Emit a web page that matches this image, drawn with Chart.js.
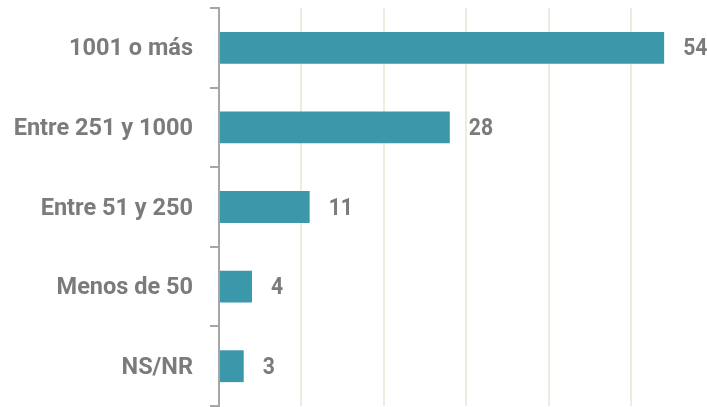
<!DOCTYPE html>
<html>
<head>
<meta charset="utf-8">
<script src="https://cdn.jsdelivr.net/npm/chart.js@4"></script>
<style>
  html, body { margin: 0; padding: 0; background: #fff; }
  #wrap { width: 707px; height: 407px; }
</style>
</head>
<body>
<div id="wrap"><canvas id="chart"></canvas></div>
<script>
// Datos
const categorias = ['1001 o más', 'Entre 251 y 1000', 'Entre 51 y 250', 'Menos de 50', 'NS/NR'];
const valores = [54, 28, 11, 4, 3];
const ejeMax = 59.2;

const fuente = "bold 24px Roboto, 'Liberation Sans', sans-serif";
const gris = '#7b7b7b';

function textoEstrecho(ctx, texto, x, y, alinear, escala) {
  ctx.save();
  ctx.translate(x, y);
  ctx.scale(escala, 1);
  ctx.textAlign = alinear;
  ctx.fillText(texto, 0, 0);
  ctx.restore();
}

// Etiquetas de categoría y de valor
const etiquetas = {
  id: 'etiquetas',
  afterDatasetsDraw(chart) {
    const ctx = chart.ctx;
    const meta = chart.getDatasetMeta(0);
    const yEje = chart.scales.y;
    ctx.save();
    ctx.font = fuente;
    ctx.fillStyle = gris;
    ctx.textBaseline = 'middle';
    meta.data.forEach(function (bar, i) {
      textoEstrecho(ctx, String(valores[i]), bar.x + 19, bar.y + 1.5, 'left', 0.88);
      textoEstrecho(ctx, categorias[i], yEje.right - 26, bar.y + 1.5, 'right', 0.98);
    });
    ctx.restore();
  }
};

new Chart(document.getElementById('chart'), {
  type: 'bar',
  data: {
    labels: categorias,
    datasets: [{
      data: valores,
      backgroundColor: '#3b97aa',
      borderWidth: 0,
      barPercentage: 0.4,
      categoryPercentage: 1
    }]
  },
  options: {
    indexAxis: 'y',
    responsive: true,
    maintainAspectRatio: false,
    animation: false,
    layout: { padding: { top: 8, bottom: 1, right: 0, left: 0 } },
    plugins: {
      legend: { display: false },
      tooltip: { enabled: false }
    },
    scales: {
      x: {
        min: 0,
        max: ejeMax,
        ticks: { display: false, stepSize: 10 },
        border: { display: false },
        grid: {
          drawTicks: false,
          lineWidth: 2,
          color: function (c) {
            return (c.tick && c.tick.value % 10 === 0 && c.tick.value > 0) ? '#efebe0' : 'rgba(0,0,0,0)';
          }
        }
      },
      y: {
        afterFit: function (scale) { scale.width = 219; },
        border: { display: true, color: '#a6a6a6', width: 2 },
        grid: {
          drawOnChartArea: false,
          drawTicks: true,
          tickLength: 9,
          color: '#a6a6a6',
          lineWidth: 2
        },
        ticks: { display: false }
      }
    }
  },
  plugins: [etiquetas]
});
</script>
</body>
</html>
